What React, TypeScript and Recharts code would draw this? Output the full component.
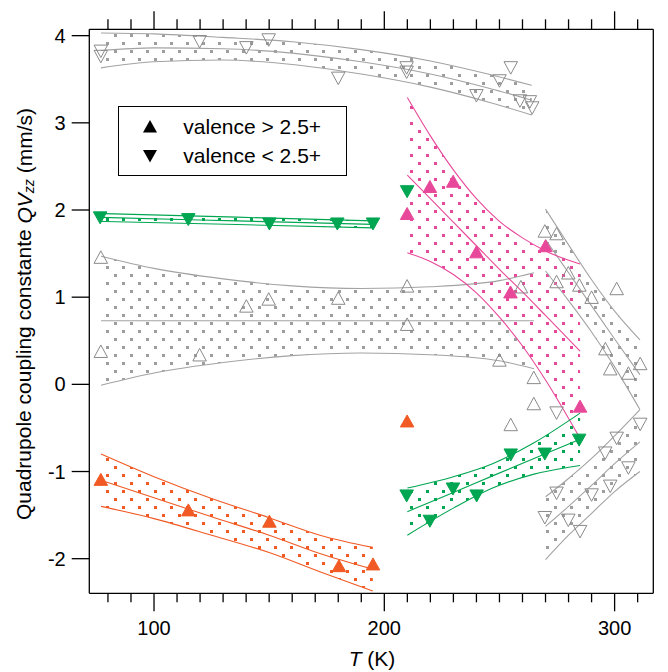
import React from 'react';
import { ComposedChart, Area, Line, Scatter, XAxis, YAxis, Legend, Label } from 'recharts';

const FONT = '"Liberation Sans", Arial, Helvetica, sans-serif';
const GRAY_LINE = '#a3a3a3';
const GRAY_DOT = '#9e9e9e';
const GRAY_MARK = '#8a8a8a';
const GREEN = '#00a651';
const ORANGE = '#f15a24';
const PINK = '#e8489a';

const X_DOMAIN: [number, number] = [71.9, 316.8];
const Y_DOMAIN: [number, number] = [-2.397, 4.073];
const xTicks = [80, 90, 100, 110, 120, 130, 140, 150, 160, 170, 180, 190, 200, 210, 220, 230, 240, 250, 260, 270, 280, 290, 300, 310];
const yTicks = [-2, -1, 0, 1, 2, 3, 4];

// fitted bands: T, lower, centre, upper
const grayTopT = [77, 100, 130, 160, 190, 220, 245, 264];
const grayTopLo = [3.63, 3.7, 3.72, 3.67, 3.56, 3.41, 3.24, 3.09];
const grayTopMid = [3.83, 3.86, 3.85, 3.8, 3.7, 3.56, 3.4, 3.26];
const grayTopHi = [4.03, 4.02, 3.98, 3.93, 3.84, 3.71, 3.56, 3.43];

const grayMidT = [77, 100, 130, 160, 190, 220, 250, 265];
const grayMidLo = [-0.01, 0.13, 0.25, 0.33, 0.36, 0.34, 0.27, 0.18];
const grayMidMid = [0.73, 0.73, 0.73, 0.73, 0.73, 0.73, 0.73, 0.73];
const grayMidHi = [1.47, 1.33, 1.21, 1.13, 1.1, 1.12, 1.19, 1.28];

const greenTopT = [77, 136, 195];
const greenTopLo = [1.87, 1.833, 1.795];
const greenTopMid = [1.915, 1.875, 1.835];
const greenTopHi = [1.96, 1.918, 1.875];

const orangeT = [77, 100, 125, 150, 172, 195];
const orangeLo = [-1.4, -1.54, -1.73, -1.93, -2.15, -2.37];
const orangeMid = [-1.1, -1.3, -1.52, -1.73, -1.94, -2.12];
const orangeHi = [-0.8, -1.06, -1.31, -1.53, -1.73, -1.87];

const pinkT = [210, 220, 230, 240, 250, 260, 270, 285];
const pinkLo = [1.51, 1.41, 1.26, 1.05, 0.77, 0.44, 0.05, -0.62];
const pinkMid = [2.4, 2.13, 1.86, 1.59, 1.32, 1.06, 0.79, 0.38];
const pinkHi = [3.29, 2.85, 2.46, 2.13, 1.87, 1.68, 1.53, 1.38];

const greenLowT = [210, 230, 247, 265, 285];
const greenLowLo = [-1.73, -1.42, -1.19, -1.03, -0.93];
const greenLowMid = [-1.46, -1.24, -1.05, -0.85, -0.63];
const greenLowHi = [-1.19, -1.06, -0.91, -0.67, -0.33];

const chevUpT = [270, 280, 290, 300, 311];
const chevUpLo = [1.3, 0.96, 0.6, 0.2, -0.29];
const chevUpMid = [1.66, 1.28, 0.9, 0.52, 0.11];
const chevUpHi = [2.01, 1.6, 1.2, 0.84, 0.51];

const chevDnT = [270, 280, 290, 300, 311];
const chevDnLo = [-2.01, -1.73, -1.48, -1.23, -1.0];
const chevDnMid = [-1.63, -1.4, -1.16, -0.91, -0.66];
const chevDnHi = [-1.29, -1.08, -0.85, -0.59, -0.29];

// measured points
const grayUpT = [76.9, 76.9, 119.8, 140.1, 149.8, 180, 209.9, 209.9, 250, 259.3, 264.9, 264.9, 254.9, 269.7, 274.8, 279.9, 274.8, 284.7, 290, 300.9, 296, 298.1, 306, 311.1];
const grayUpV = [1.46, 0.38, 0.34, 0.9, 0.98, 0.99, 1.13, 0.69, 0.28, 1.12, 0.08, -0.22, -0.46, 1.76, 1.73, 1.28, 1.18, 1.14, 1.0, 1.1, 0.41, 0.18, 0.13, 0.24];

const grayDownT = [76.9, 76.9, 119.8, 140.1, 149.8, 180, 209.7, 209.7, 254.9, 250, 240, 258.9, 263.2, 264.2, 274.8, 311.1, 300.9, 295.9, 306, 298.1, 290, 274.8, 269.7, 279.9, 285];
const grayDownV = [3.82, 3.76, 3.93, 3.86, 3.95, 3.51, 3.63, 3.58, 3.63, 3.48, 3.31, 3.25, 3.24, 3.17, -0.33, -0.46, -0.62, -0.79, -0.96, -1.17, -1.27, -1.25, -1.53, -1.56, -1.69];

const greenDownT = [76.6, 114.9, 150.1, 179.6, 195.1, 209.9, 209.7, 219.8, 229.8, 240.1, 254.9, 269.7, 284.6];
const greenDownV = [1.91, 1.89, 1.84, 1.84, 1.84, 2.21, -1.28, -1.57, -1.2, -1.28, -0.81, -0.8, -0.64];

const orangeUpT = [76.9, 114.9, 150.1, 180.3, 195.1, 209.9];
const orangeUpV = [-1.09, -1.44, -1.57, -2.08, -2.06, -0.42];

const pinkUpT = [209.9, 219.8, 229.9, 240, 254.8, 270, 285];
const pinkUpV = [1.96, 2.27, 2.33, 1.52, 1.06, 1.59, -0.25];

const band = (T: number[], lo: number[], mid: number[], hi: number[]) =>
  T.map((t, i) => ({ T: t, lo: lo[i], mid: mid[i], hi: hi[i], range: [lo[i], hi[i]] }));
const pts = (T: number[], v: number[]) => T.map((t, i) => ({ T: t, v: v[i] }));

const bands = [
  { key: 'grayTop', data: band(grayTopT, grayTopLo, grayTopMid, grayTopHi), color: GRAY_LINE, fill: 'dotGray' },
  { key: 'grayMid', data: band(grayMidT, grayMidLo, grayMidMid, grayMidHi), color: GRAY_LINE, fill: 'dotGray' },
  { key: 'chevUp', data: band(chevUpT, chevUpLo, chevUpMid, chevUpHi), color: GRAY_LINE, fill: 'dotGray' },
  { key: 'chevDn', data: band(chevDnT, chevDnLo, chevDnMid, chevDnHi), color: GRAY_LINE, fill: 'dotGray' },
  { key: 'greenTop', data: band(greenTopT, greenTopLo, greenTopMid, greenTopHi), color: GREEN, fill: 'dotGreen' },
  { key: 'orange', data: band(orangeT, orangeLo, orangeMid, orangeHi), color: ORANGE, fill: 'dotOrange' },
  { key: 'pink', data: band(pinkT, pinkLo, pinkMid, pinkHi), color: PINK, fill: 'dotPink' },
  { key: 'greenLow', data: band(greenLowT, greenLowLo, greenLowMid, greenLowHi), color: GREEN, fill: 'dotGreen' },
];

const triangle = (up: boolean, fill: string, stroke: string, w: number, h: number) => (props: any) => {
  const { cx, cy } = props;
  if (cx == null || cy == null) return <g />;
  const p = up
    ? `${cx},${cy - h / 2} ${cx - w / 2},${cy + h / 2} ${cx + w / 2},${cy + h / 2}`
    : `${cx},${cy + h / 2} ${cx - w / 2},${cy - h / 2} ${cx + w / 2},${cy - h / 2}`;
  return <polygon points={p} fill={fill} stroke={stroke} strokeWidth={1} strokeLinejoin="miter" />;
};

const BottomTick = (props: any) => {
  const { x, y, payload } = props;
  const major = payload.value % 100 === 0;
  return (
    <g>
      <line x1={x} y1={y} x2={x} y2={y + (major ? 18 : 9)} stroke="#000" strokeWidth={1.3} />
      {major && (
        <text x={x} y={y + 41.5} textAnchor="middle" fontSize={20} fontFamily={FONT} fill="#000">
          {payload.value}
        </text>
      )}
    </g>
  );
};

const TopTick = (props: any) => {
  const { x, y, payload } = props;
  const major = payload.value % 100 === 0;
  return <line x1={x} y1={y} x2={x} y2={y - (major ? 18 : 10)} stroke="#000" strokeWidth={1.3} />;
};

const YTitle = () => (
  <text
    transform="translate(15.5,306) rotate(-90)"
    textAnchor="middle"
    dominantBaseline="central"
    fontSize={21}
    fontFamily={FONT}
    fill="#000"
  >
    Quadrupole coupling constante <tspan fontStyle="italic">QV</tspan>
    <tspan fontStyle="italic" fontSize={14} dy={5}>zz</tspan>
    <tspan dy={-5}> (mm/s)</tspan>
  </text>
);

const XTitle = () => (
  <text x={364} y={658} textAnchor="middle" fontSize={21} fontFamily={FONT} fill="#000">
    <tspan fontStyle="italic">T</tspan> (K)
  </text>
);

const LegendBox = () => (
  <div
    style={{
      boxSizing: 'border-box',
      width: 229,
      height: 70,
      border: '1.3px solid #000',
      background: '#fff',
      fontFamily: FONT,
      fontSize: 21,
      color: '#000',
      position: 'relative',
    }}
  >
    {[
      { up: true, text: 'valence > 2.5+', top: 20 },
      { up: false, text: 'valence < 2.5+', top: 49 },
    ].map((r) => (
      <div key={r.text} style={{ position: 'absolute', left: 0, top: r.top - 13, height: 26, display: 'flex', alignItems: 'center' }}>
        <svg width={64} height={26} style={{ display: 'block' }}>
          <polygon points={r.up ? '31,6 24,18.5 38,18.5' : '31,19.5 24,7 38,7'} fill="#000" />
        </svg>
        <span style={{ whiteSpace: 'nowrap', lineHeight: '26px' }}>{r.text}</span>
      </div>
    ))}
  </div>
);

const Dots = ({ id, color, size }: { id: string; color: string; size: number }) => (
  <pattern id={id} width={16} height={16} patternUnits="userSpaceOnUse">
    <rect x={2} y={2} width={size} height={size} fill={color} />
    <rect x={10} y={10} width={size} height={size} fill={color} />
  </pattern>
);

export default function App() {
  return (
    <div style={{ fontFamily: FONT }}>
      <ComposedChart width={660} height={664} margin={{ top: 6.3, right: 4.7, bottom: 38.7, left: 21.3 }}>
        <defs>
          <Dots id="dotGray" color={GRAY_DOT} size={3} />
          <Dots id="dotGreen" color={GREEN} size={3} />
          <Dots id="dotOrange" color={ORANGE} size={3} />
          <Dots id="dotPink" color={PINK} size={3} />
        </defs>
        <XAxis
          type="number"
          dataKey="T"
          domain={X_DOMAIN}
          allowDataOverflow
          ticks={xTicks}
          interval={0}
          height={40}
          tickSize={0}
          tickMargin={0}
          tickLine={false}
          tick={<BottomTick />}
          axisLine={{ stroke: '#000', strokeWidth: 1.3 }}
        >
          <Label content={<XTitle />} />
        </XAxis>
        <XAxis
          xAxisId="top"
          orientation="top"
          type="number"
          dataKey="T"
          domain={X_DOMAIN}
          allowDataOverflow
          ticks={xTicks}
          interval={0}
          height={15}
          tickSize={0}
          tickMargin={0}
          tickLine={false}
          tick={<TopTick />}
          axisLine={{ stroke: '#000', strokeWidth: 1.3 }}
        />
        <YAxis
          type="number"
          domain={Y_DOMAIN}
          allowDataOverflow
          ticks={yTicks}
          interval={0}
          width={60}
          tickSize={17.6}
          tickMargin={6}
          tick={{ fontSize: 20, fill: '#000', fontFamily: FONT }}
          tickLine={{ stroke: '#000', strokeWidth: 1.3 }}
          axisLine={{ stroke: '#000', strokeWidth: 1.3 }}
        >
          <Label content={<YTitle />} />
        </YAxis>
        <YAxis
          yAxisId="right"
          orientation="right"
          type="number"
          domain={Y_DOMAIN}
          allowDataOverflow
          ticks={yTicks}
          interval={0}
          width={10}
          tickSize={17}
          tick={false}
          tickLine={{ stroke: '#000', strokeWidth: 1.3 }}
          axisLine={{ stroke: '#000', strokeWidth: 1.3 }}
        />
        {bands.map((b) => (
          <Area
            key={`${b.key}-area`}
            data={b.data}
            dataKey="range"
            type="monotone"
            stroke="none"
            fill={`url(#${b.fill})`}
            fillOpacity={1}
            isAnimationActive={false}
            activeDot={false}
          />
        ))}
        {bands.flatMap((b) =>
          ['lo', 'mid', 'hi'].map((k) => (
            <Line
              key={`${b.key}-${k}`}
              data={b.data}
              dataKey={k}
              type="monotone"
              stroke={b.color}
              strokeWidth={1.1}
              dot={false}
              activeDot={false}
              isAnimationActive={false}
            />
          ))
        )}
        <Scatter data={pts(grayUpT, grayUpV)} dataKey="v" shape={triangle(true, 'none', GRAY_MARK, 13.5, 12.5)} isAnimationActive={false} />
        <Scatter data={pts(grayDownT, grayDownV)} dataKey="v" shape={triangle(false, 'none', GRAY_MARK, 13.5, 12.5)} isAnimationActive={false} />
        <Scatter data={pts(greenDownT, greenDownV)} dataKey="v" shape={triangle(false, GREEN, GREEN, 13.5, 12)} isAnimationActive={false} />
        <Scatter data={pts(orangeUpT, orangeUpV)} dataKey="v" shape={triangle(true, ORANGE, ORANGE, 13.5, 12)} isAnimationActive={false} />
        <Scatter data={pts(pinkUpT, pinkUpV)} dataKey="v" shape={triangle(true, PINK, PINK, 13.5, 12)} isAnimationActive={false} />
        <Legend
          layout="vertical"
          align="center"
          verticalAlign="middle"
          content={<LegendBox />}
          wrapperStyle={{ position: 'absolute', left: 110.3, top: 98, width: 229, height: 70 }}
        />
      </ComposedChart>
    </div>
  );
}
